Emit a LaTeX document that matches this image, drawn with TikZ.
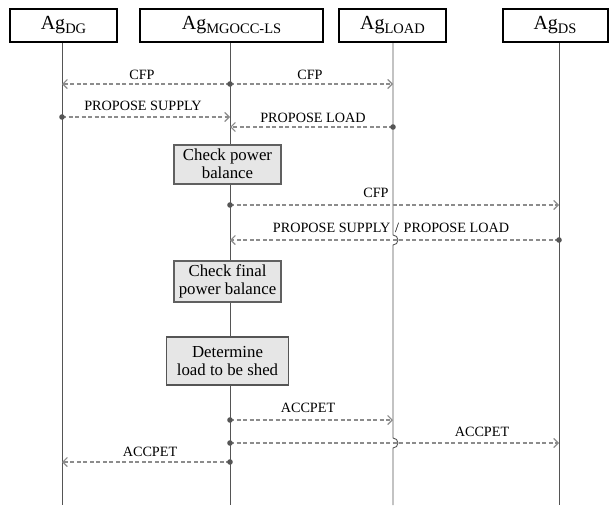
\documentclass[tikz,border=0pt]{standalone}
\usepackage{fontspec}
\setmainfont{Liberation Serif}
\usetikzlibrary{arrows.meta}
\definecolor{lifec}{HTML}{555555}
\definecolor{msgc}{HTML}{8C8C8C}
\definecolor{dotc}{HTML}{555555}
\definecolor{procfill}{HTML}{E6E6E6}
\definecolor{procdraw}{HTML}{606060}
\newcommand\agsub[1]{\raisebox{-4pt}{\fontsize{14.5}{14.5}\selectfont #1}}
\begin{document}
\begin{tikzpicture}[x=1pt,y=-1pt,
  agent/.style={draw=black, line width=2pt, fill=white, minimum height=33pt, inner sep=0pt,
    font=\fontsize{20}{22}\selectfont},
  lifeline/.style={draw=lifec, line width=0.9pt},
  msg/.style={draw=msgc, line width=1.3pt, dash pattern=on 4pt off 2.5pt,
    -{Straight Barb[length=4.5pt,width=9pt,line width=1.2pt]}},
  dotmark/.style={fill=dotc},
  proc/.style={draw=procdraw, fill=procfill, line width=2pt, align=center, inner sep=1pt,
    font=\fontsize{16.8}{18}\selectfont},
  lbl/.style={font=\fontsize{14.2}{15}\selectfont, inner sep=0pt}
]
\useasboundingbox (0,0) rectangle (609,506);

% lifeline coordinates
\coordinate (tDG) at (62,42);   \coordinate (bDG) at (62,505);
\coordinate (tMG) at (230,42);  \coordinate (bMG) at (230,505);
\coordinate (tLD) at (393,42);  \coordinate (bLD) at (393,505);
\coordinate (tDS) at (559,42);  \coordinate (bDS) at (559,505);

% lifelines
\draw[lifeline] (tDG) -- (bDG);
\draw[lifeline] (tMG) -- (bMG);
\draw[lifeline] (tDS) -- (bDS);
\draw[lifeline] (tLD) -- (393,235) arc (-90:90:5) -- (393,438) arc (-90:90:5) -- (bLD);

% agents
\node[agent, minimum width=107pt] (hDG) at (63.5,25) {Ag\agsub{DG}};
\node[agent, minimum width=183pt] (hMG) at (231.5,25) {Ag\agsub{MGOCC-LS}};
\node[agent, minimum width=107pt] (hLD) at (392.5,25) {Ag\agsub{LOAD}};
\node[agent, minimum width=105pt] (hDS) at (555,25) {Ag\agsub{DS}};

% process boxes
\node[proc, minimum width=107pt, minimum height=39pt] (p1) at (227.5,164) {Check power\\balance};
\node[proc, minimum width=107pt, minimum height=41pt] (p2) at (227.5,281) {Check final\\power balance};
\node[proc, draw=lifec, line width=1.2pt, minimum width=122pt, minimum height=48pt] (p3) at (227.5,361) {Determine\\load to be shed};

% message end points
\coordinate (m1s) at (230,84);  \coordinate (m1e) at (62,84);
\coordinate (m2e) at (393,84);
\coordinate (m3s) at (62,117);  \coordinate (m3e) at (230,117);
\coordinate (m4s) at (393,127); \coordinate (m4e) at (230,127);
\coordinate (m5s) at (230,205); \coordinate (m5e) at (559,205);
\coordinate (m6s) at (559,240); \coordinate (m6e) at (230,240);
\coordinate (m7s) at (230,420); \coordinate (m7e) at (393,420);
\coordinate (m8s) at (230,443); \coordinate (m8e) at (559,443);
\coordinate (m9s) at (230,462); \coordinate (m9e) at (62,462);

% messages
\draw[msg] (m1s) -- (m1e);
\draw[msg] (m1s) -- (m2e);
\draw[msg] (m3s) -- (m3e);
\draw[msg] (m4s) -- (m4e);
\draw[msg] (m5s) -- (m5e);
\draw[msg] (m6s) -- (m6e);
\draw[msg] (m7s) -- (m7e);
\draw[msg] (m8s) -- (m8e);
\draw[msg] (m9s) -- (m9e);

% dots
\foreach \c in {m1s,m3s,m4s,m5s,m6s,m7s,m8s,m9s}
  \fill[dotmark] (\c) circle (2.8pt);

% labels
\node[lbl] (l1) at (142,75) {CFP};
\node[lbl] (l2) at (310,75) {CFP};
\node[lbl] (l3) at (143,106) {PROPOSE SUPPLY};
\node[lbl] (l4) at (313,118) {PROPOSE LOAD};
\node[lbl] (l5) at (376,193) {CFP};
\node[lbl] (l6) at (391,228) {PROPOSE SUPPLY\,\,/\,\,PROPOSE LOAD};
\node[lbl] (l7) at (308,408) {ACCPET};
\node[lbl] (l8) at (482,432) {ACCPET};
\node[lbl] (l9) at (150,452) {ACCPET};
\end{tikzpicture}
\end{document}
